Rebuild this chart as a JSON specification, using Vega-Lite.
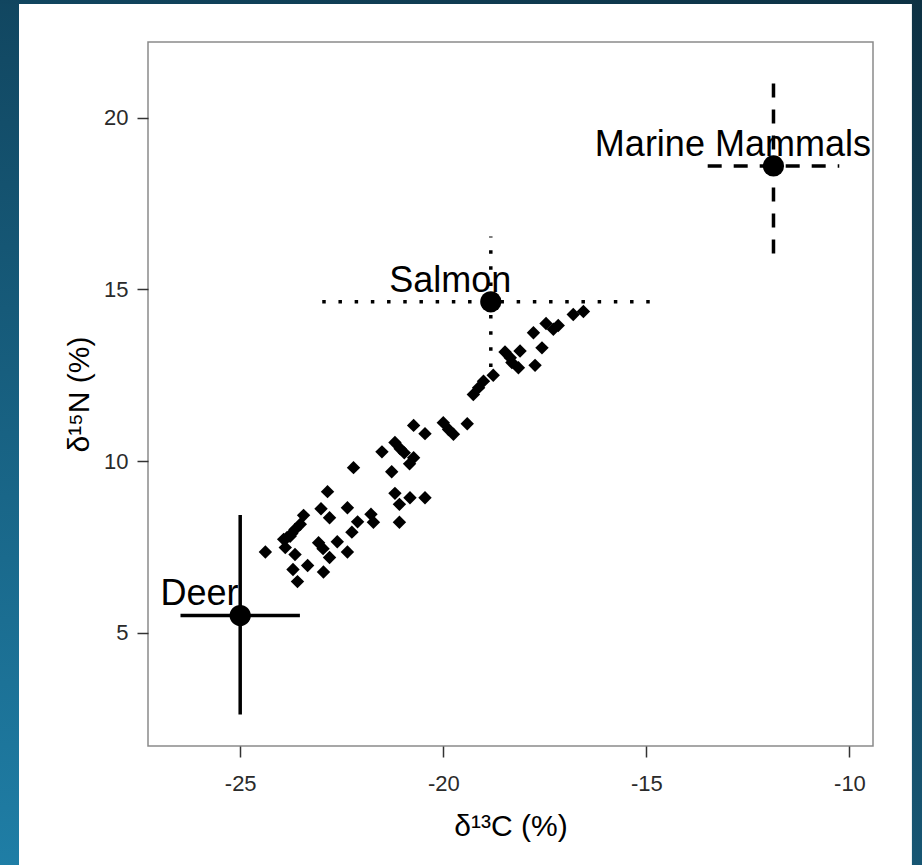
{
  "$schema": "https://vega.github.io/schema/vega-lite/v6.json",
  "width": 725,
  "height": 704,
  "autosize": {"type": "none"},
  "padding": {"left": 148, "top": 42, "right": 49, "bottom": 119},
  "background": "white",
  "config": {
    "font": "Liberation Sans",
    "view": {"stroke": "#8a8a8a", "strokeWidth": 1.5, "fill": "white"},
    "axis": {
      "domain": false,
      "tickSize": 11,
      "tickWidth": 1.5,
      "tickColor": "#333333",
      "labelFont": "Liberation Sans",
      "labelFontSize": 22,
      "labelColor": "#2a2a2a",
      "labelFlush": false,
      "labelOverlap": false,
      "titleFont": "Liberation Sans",
      "titleFontSize": 30,
      "titleFontWeight": "normal",
      "titleColor": "#000000",
      "gridWidth": 1.5
    }
  },
  "datasets": {
    "samples": [
      {"c13": -24.38, "n15": 7.35}, {"c13": -23.93, "n15": 7.72}, {"c13": -23.77, "n15": 7.81},
      {"c13": -23.85, "n15": 7.77}, {"c13": -23.89, "n15": 7.48}, {"c13": -23.73, "n15": 7.89},
      {"c13": -23.65, "n15": 8.01}, {"c13": -23.52, "n15": 8.16}, {"c13": -23.44, "n15": 8.42},
      {"c13": -23.65, "n15": 7.28}, {"c13": -23.70, "n15": 6.84}, {"c13": -23.59, "n15": 6.49},
      {"c13": -23.34, "n15": 6.96}, {"c13": -23.01, "n15": 8.61}, {"c13": -22.80, "n15": 8.35},
      {"c13": -22.85, "n15": 9.11}, {"c13": -23.07, "n15": 7.62}, {"c13": -22.96, "n15": 7.45},
      {"c13": -22.95, "n15": 6.77}, {"c13": -22.80, "n15": 7.19}, {"c13": -22.61, "n15": 7.65},
      {"c13": -22.36, "n15": 7.35}, {"c13": -22.36, "n15": 8.64}, {"c13": -22.25, "n15": 7.93},
      {"c13": -22.11, "n15": 8.23}, {"c13": -22.21, "n15": 9.81}, {"c13": -21.78, "n15": 8.45},
      {"c13": -21.72, "n15": 8.22}, {"c13": -21.51, "n15": 10.27}, {"c13": -21.27, "n15": 9.69},
      {"c13": -21.19, "n15": 10.54}, {"c13": -21.06, "n15": 10.36}, {"c13": -20.96, "n15": 10.24},
      {"c13": -20.73, "n15": 10.10}, {"c13": -20.83, "n15": 9.92}, {"c13": -21.19, "n15": 9.06},
      {"c13": -20.82, "n15": 8.93}, {"c13": -20.45, "n15": 8.93}, {"c13": -21.08, "n15": 8.74},
      {"c13": -21.08, "n15": 8.22}, {"c13": -20.73, "n15": 11.04}, {"c13": -20.45, "n15": 10.80},
      {"c13": -20.00, "n15": 11.12}, {"c13": -19.87, "n15": 10.92}, {"c13": -19.75, "n15": 10.78},
      {"c13": -19.41, "n15": 11.09}, {"c13": -19.26, "n15": 11.94}, {"c13": -19.13, "n15": 12.14},
      {"c13": -19.01, "n15": 12.33}, {"c13": -18.77, "n15": 12.50}, {"c13": -18.48, "n15": 13.18},
      {"c13": -18.35, "n15": 13.01}, {"c13": -18.11, "n15": 13.21}, {"c13": -18.31, "n15": 12.87},
      {"c13": -18.15, "n15": 12.72}, {"c13": -17.74, "n15": 12.79}, {"c13": -17.57, "n15": 13.30},
      {"c13": -17.78, "n15": 13.74}, {"c13": -17.47, "n15": 14.01}, {"c13": -17.29, "n15": 13.84},
      {"c13": -17.17, "n15": 13.95}, {"c13": -16.80, "n15": 14.27}, {"c13": -16.55, "n15": 14.36}
    ],
    "sources": [
      {"name": "Deer", "c13": -25.0, "n15": 5.50, "c13_lo": -26.47, "c13_hi": -23.53, "n15_lo": 2.62, "n15_hi": 8.43},
      {"name": "Salmon", "c13": -18.83, "n15": 14.64, "c13_lo": -22.98, "c13_hi": -14.68, "n15_lo": 12.74, "n15_hi": 16.54},
      {"name": "Marine Mammals", "c13": -11.87, "n15": 18.60, "c13_lo": -13.49, "c13_hi": -10.25, "n15_lo": 16.05, "n15_hi": 21.15}
    ]
  },
  "layer": [
    {
      "description": "left edge band of the slide backdrop",
      "data": {"values": [{}]},
      "mark": {"type": "rect", "fill": {"gradient": "linear", "x1": 0, "y1": 0, "x2": 0, "y2": 1, "stops": [{"offset": 0, "color": "#114660"}, {"offset": 1, "color": "#1f7ea6"}]}},
      "encoding": {
        "x": {"datum": -31.0, "type": "quantitative", "scale": {"domain": [-27.27, -9.42], "nice": false, "zero": false}},
        "x2": {"datum": -30.446},
        "y": {"datum": -1.9, "type": "quantitative", "scale": {"domain": [1.70, 22.21], "nice": false, "zero": false}},
        "y2": {"datum": 23.5}
      }
    },
    {
      "description": "right edge band of the slide backdrop",
      "data": {"values": [{}]},
      "mark": {"type": "rect", "fill": {"gradient": "linear", "x1": 0, "y1": 0, "x2": 0, "y2": 1, "stops": [{"offset": 0, "color": "#0d3143"}, {"offset": 1, "color": "#175673"}]}},
      "encoding": {
        "x": {"datum": -8.462, "type": "quantitative", "scale": {"domain": [-27.27, -9.42], "nice": false, "zero": false}},
        "x2": {"datum": -8.1},
        "y": {"datum": -1.9, "type": "quantitative", "scale": {"domain": [1.70, 22.21], "nice": false, "zero": false}},
        "y2": {"datum": 23.5}
      }
    },
    {
      "description": "top edge band of the slide backdrop",
      "data": {"values": [{}]},
      "mark": {"type": "rect", "fill": {"gradient": "linear", "x1": 0, "y1": 0, "x2": 1, "y2": 0, "stops": [{"offset": 0, "color": "#114660"}, {"offset": 1, "color": "#0d3143"}]}},
      "encoding": {
        "x": {"datum": -31.0, "type": "quantitative", "scale": {"domain": [-27.27, -9.42], "nice": false, "zero": false}},
        "x2": {"datum": -8.1},
        "y": {"datum": 23.317, "type": "quantitative", "scale": {"domain": [1.70, 22.21], "nice": false, "zero": false}},
        "y2": {"datum": 23.5}
      }
    },
    {
      "description": "horizontal spread (d13C) of each food source",
      "data": {"name": "sources"},
      "mark": {"type": "rule", "strokeWidth": 3.5, "strokeCap": "butt", "color": "black"},
      "encoding": {
        "x": {"field": "c13_lo", "type": "quantitative", "scale": {"domain": [-27.27, -9.42], "nice": false, "zero": false}},
        "x2": {"field": "c13_hi"},
        "y": {"field": "n15", "type": "quantitative", "scale": {"domain": [1.70, 22.21], "nice": false, "zero": false}},
        "strokeDash": {"field": "name", "type": "nominal", "legend": null,
          "scale": {"domain": ["Deer", "Salmon", "Marine Mammals"], "range": [[1, 0], [3.5, 12.7], [14, 12]]}}
      }
    },
    {
      "description": "vertical spread (d15N) of each food source",
      "data": {"name": "sources"},
      "mark": {"type": "rule", "strokeWidth": 3.5, "strokeCap": "butt", "color": "black"},
      "encoding": {
        "x": {"field": "c13", "type": "quantitative", "scale": {"domain": [-27.27, -9.42], "nice": false, "zero": false}},
        "y": {"field": "n15_lo", "type": "quantitative", "scale": {"domain": [1.70, 22.21], "nice": false, "zero": false}},
        "y2": {"field": "n15_hi"},
        "strokeDash": {"field": "name", "type": "nominal", "legend": null,
          "scale": {"domain": ["Deer", "Salmon", "Marine Mammals"], "range": [[1, 0], [3.5, 12.7], [14, 12]]}}
      }
    },
    {
      "description": "individual consumer samples",
      "data": {"name": "samples"},
      "mark": {"type": "point", "shape": "diamond", "filled": true, "size": 180, "color": "black", "opacity": 1},
      "encoding": {
        "x": {
          "field": "c13", "type": "quantitative",
          "scale": {"domain": [-27.27, -9.42], "nice": false, "zero": false},
          "axis": {
            "title": "δ¹³C (%)",
            "values": [-25, -22.5, -20, -17.5, -15, -12.5, -10],
            "labelExpr": "datum.value % 5 === 0 ? (datum.value < 0 ? '-' + abs(datum.value) : '' + datum.value) : ''",
            "tickOpacity": {"condition": {"test": "datum.value % 5 === 0", "value": 1}, "value": 0},
            "gridColor": {"condition": {"test": "datum.value % 5 === 0", "value": "#dedede"}, "value": "#f0f0f0"},
            "labelPadding": 16,
            "titlePadding": 17
          }
        },
        "y": {
          "field": "n15", "type": "quantitative",
          "scale": {"domain": [1.70, 22.21], "nice": false, "zero": false},
          "axis": {
            "title": "δ¹⁵N (%)",
            "values": [2.5, 5, 7.5, 10, 12.5, 15, 17.5, 20],
            "labelExpr": "datum.value % 5 === 0 ? '' + datum.value : ''",
            "tickOpacity": {"condition": {"test": "datum.value % 5 === 0", "value": 1}, "value": 0},
            "gridColor": {"condition": {"test": "datum.value % 5 === 0", "value": "#dedede"}, "value": "#f0f0f0"},
            "labelPadding": 9,
            "titlePadding": 9
          }
        }
      }
    },
    {
      "description": "mean of each food source",
      "data": {"name": "sources"},
      "mark": {"type": "point", "shape": "circle", "filled": true, "size": 450, "color": "black", "opacity": 1},
      "encoding": {
        "x": {"field": "c13", "type": "quantitative", "scale": {"domain": [-27.27, -9.42], "nice": false, "zero": false}},
        "y": {"field": "n15", "type": "quantitative", "scale": {"domain": [1.70, 22.21], "nice": false, "zero": false}}
      }
    },
    {
      "description": "source names, nudged up and to the left of each mean",
      "data": {"name": "sources"},
      "mark": {"type": "text", "font": "Liberation Sans", "fontSize": 36, "align": "center", "baseline": "alphabetic", "dx": -40.6, "dy": -10.3, "color": "black"},
      "encoding": {
        "x": {"field": "c13", "type": "quantitative", "scale": {"domain": [-27.27, -9.42], "nice": false, "zero": false}},
        "y": {"field": "n15", "type": "quantitative", "scale": {"domain": [1.70, 22.21], "nice": false, "zero": false}},
        "text": {"field": "name"}
      }
    }
  ]
}
